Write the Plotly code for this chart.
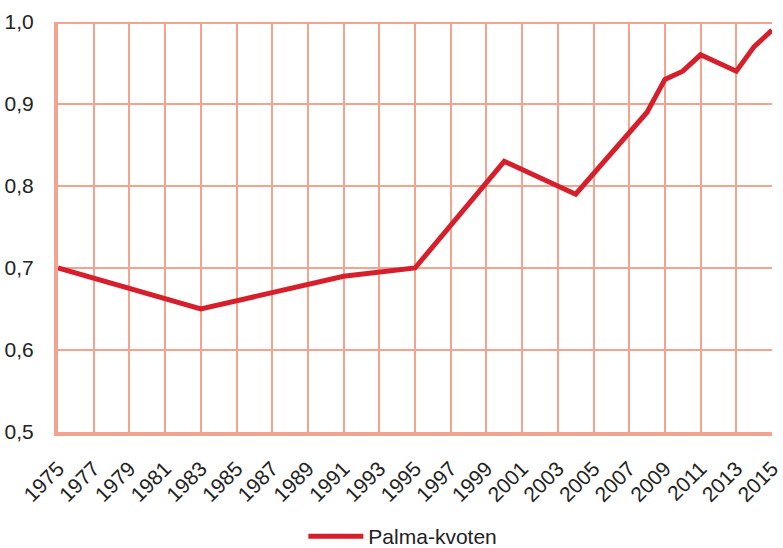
import plotly.graph_objects as go

years = [1975, 1983, 1991, 1995, 2000, 2004, 2008, 2009, 2010, 2011, 2013, 2014, 2015]
palma = [0.70, 0.65, 0.69, 0.70, 0.83, 0.79, 0.89, 0.93, 0.94, 0.96, 0.94, 0.97, 0.99]
series_name = "Palma-kvoten"

grid_c = "#f2a48e"
line_c = "#d71f2b"

fig = go.Figure()
fig.add_trace(go.Scatter(x=years, y=palma, mode="lines", name=series_name,
                         line=dict(color=line_c, width=5)))

fig.update_layout(
    width=783, height=548,
    margin=dict(l=58, r=11, t=22, b=116, autoexpand=False),
    plot_bgcolor="white", paper_bgcolor="white",
    separators=", ",
    font=dict(family="Liberation Sans, Arial, sans-serif", size=20, color="#222222"),
    showlegend=True,
    legend=dict(orientation="h", x=0.483, xanchor="center", y=-0.205, yanchor="top",
                font=dict(size=21), itemwidth=55),
)
fig.update_xaxes(range=[1975, 2015], tick0=1975, dtick=2, tickangle=-45,
                 showgrid=True, gridcolor=grid_c, gridwidth=2,
                 showline=True, linecolor=grid_c, linewidth=4, mirror=False,
                 ticks="outside", ticklen=12, tickcolor="rgba(0,0,0,0)",
                 zeroline=False, tickfont=dict(size=21), automargin=False)
fig.update_yaxes(range=[0.5, 1.0], dtick=0.1, tickformat=".1f",
                 showgrid=True, gridcolor=grid_c, gridwidth=2,
                 showline=True, linecolor=grid_c, linewidth=4,
                 ticks="outside", ticklen=16, tickcolor="rgba(0,0,0,0)",
                 zeroline=False, tickfont=dict(size=21), automargin=False)
# thick top border at 1.0
fig.add_shape(type="line", xref="paper", yref="y", x0=0, x1=1, y0=1.0, y1=1.0,
              line=dict(color=grid_c, width=4), layer="below")

fig.write_html("out.html", config={"displayModeBar": False},
               post_script="document.body.style.margin='0';document.body.style.overflow='hidden';")
